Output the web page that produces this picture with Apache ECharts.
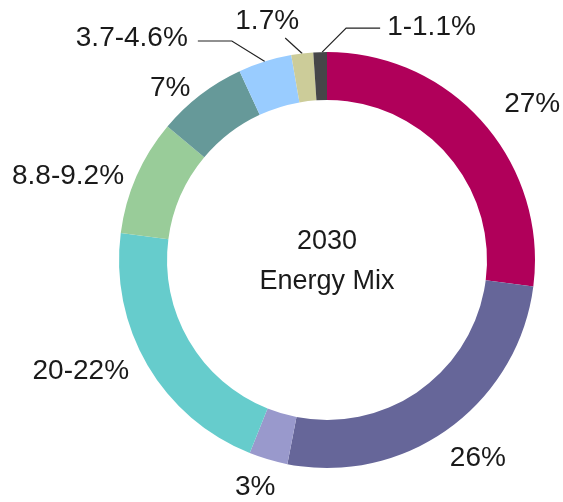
<!DOCTYPE html>
<html><head><meta charset="utf-8">
<script src="https://cdn.jsdelivr.net/npm/echarts@6/dist/echarts.min.js"></script>
<style>html,body{margin:0;padding:0;background:#fff}#c{width:563px;height:502px}</style>
</head><body><div id="c"></div>
<script>
// Data (clockwise from 12 o'clock)
const labels = ['27%', '26%', '3%', '20-22%', '8.8-9.2%', '7%', '3.7-4.6%', '1.7%', '1-1.1%'];
const values = [27, 26, 3, 21, 9, 7, 4.15, 1.7, 1.05];
const colors = ['#B0005A', '#666699', '#9999CC', '#66CCCC', '#99CC99', '#669999', '#99CCFF', '#CCCC99', '#464648'];
const centerLines = ['2030', 'Energy Mix'];

// Geometry / style
const CX = 327, CY = 260, R_IN = 160, R_OUT = 208;
const FONT = 'Liberation Sans';
const total = values.reduce((a, b) => a + b, 0);
const mids = [];
(function () { let s = 0; values.forEach(v => { mids.push(s + v / 2); s += v; }); })();
function anchor(i) {
  const a = mids[i] / total * 2 * Math.PI;
  return [CX + R_OUT * Math.sin(a), CY - R_OUT * Math.cos(a)];
}
// label offsets relative to the slice's outer mid point
const place = [
  { t: [21, -18], align: 'left' },
  { t: [1, 30], align: 'left' },
  { t: [-13, 27.5], align: 'center' },
  { t: [-18.5, 6], align: 'right' },
  { t: [-12.5, 0], align: 'right' },
  { t: [-10, -7], align: 'right' },
  { t: [-77, -23], align: 'right', line: [[0, 0], [-33, -20.5], [-67, -20.5]] },
  { t: [-35, -32], align: 'center', line: [[0, 0], [-17, -15.5]] },
  { t: [67, -25], align: 'left', line: [[2, 0], [26, -24], [60, -24]] }
];

const data = values.map((v, i) => ({
  value: v,
  name: labels[i],
  itemStyle: { color: colors[i] },
  labelLine: { show: !!place[i].line }
}));

const chart = echarts.init(document.getElementById('c'), null, { renderer: 'canvas' });
chart.setOption({
  animation: false,
  backgroundColor: '#ffffff',
  title: {
    text: centerLines.join('\n'),
    left: CX, top: CY - 38, textAlign: 'center', padding: 0,
    textStyle: { fontFamily: FONT, fontSize: 27, fontWeight: 'normal', color: '#1a1a1a', lineHeight: 40 }
  },
  series: [{
    type: 'pie',
    center: [CX, CY],
    radius: [R_IN, R_OUT],
    startAngle: 90,
    clockwise: true,
    avoidLabelOverlap: false,
    silent: true,
    itemStyle: { borderWidth: 0 },
    label: {
      show: true, position: 'outside', formatter: '{b}',
      fontFamily: FONT, fontSize: 28, color: '#1a1a1a'
    },
    labelLine: { show: false, lineStyle: { color: '#222222', width: 1.2 }, smooth: false },
    labelLayout: function (p) {
      const i = p.dataIndex, a = anchor(i), pl = place[i];
      const out = { x: a[0] + pl.t[0], y: a[1] + pl.t[1], align: pl.align, verticalAlign: 'middle' };
      if (pl.line) out.labelLinePoints = pl.line.map(q => [a[0] + q[0], a[1] + q[1]]);
      return out;
    },
    data: data
  }]
});
</script></body></html>
